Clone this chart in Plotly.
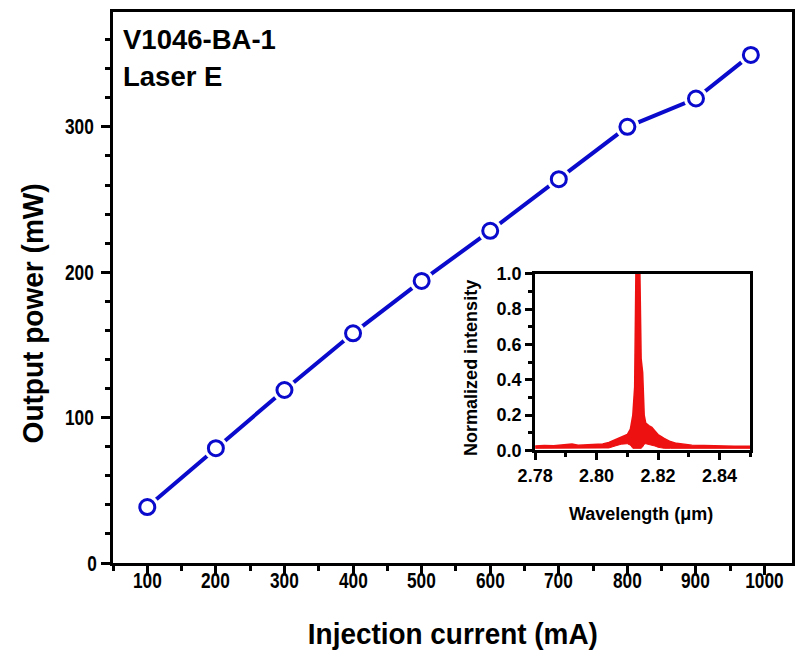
import plotly.graph_objects as go

# Main L-I data
current_mA = [100, 200, 300, 400, 500, 600, 700, 800, 900, 980]
power_mW = [38.5, 79, 119, 158, 194, 228.5, 264, 300, 319.5, 349.5]

# Inset spectrum (envelope)
wavelength_um = [2.780, 2.783, 2.786, 2.789, 2.792, 2.794, 2.796, 2.799, 2.802, 2.804,
                 2.806, 2.808, 2.810, 2.811, 2.8118, 2.8124, 2.8128, 2.8134, 2.8141, 2.8145,
                 2.8150, 2.8155, 2.8160, 2.817, 2.818, 2.819, 2.820, 2.822, 2.824, 2.826,
                 2.828, 2.831, 2.835, 2.840, 2.845, 2.850]
intensity_upper = [0.025, 0.028, 0.026, 0.030, 0.036, 0.030, 0.031, 0.032, 0.036, 0.045,
                   0.060, 0.075, 0.090, 0.120, 0.200, 0.360, 1.000, 1.000, 1.000, 0.520,
                   0.440, 0.200, 0.155, 0.140, 0.130, 0.110, 0.090, 0.068, 0.050, 0.040,
                   0.035, 0.030, 0.028, 0.025, 0.024, 0.024]
intensity_lower = [0.012, 0.012, 0.012, 0.012, 0.012, 0.012, 0.012, 0.012, 0.012, 0.014,
                   0.025, 0.035, 0.038, 0.030, 0.012, 0.012, 0.012, 0.012, 0.012, 0.012,
                   0.020, 0.035, 0.038, 0.035, 0.030, 0.025, 0.018, 0.012, 0.012, 0.012,
                   0.012, 0.012, 0.012, 0.012, 0.012, 0.012]

x_ticks = [100, 200, 300, 400, 500, 600, 700, 800, 900, 1000]
y_ticks = [0, 100, 200, 300]
inset_x_ticks = [2.78, 2.80, 2.82, 2.84]
inset_y_ticks = [0.0, 0.2, 0.4, 0.6, 0.8, 1.0]

SANS = "Liberation Sans, Arial, sans-serif"
BLUE = "#0a0acc"
RED = "#ee1111"

W, H = 797, 653
L, R, T, B = 113, 2, 5, 90
pw, ph = W - L - R, H - T - B


def px(x):
    return (x - L) / pw


def py(y):
    return (H - B - y) / ph


def bold(size):
    return dict(family=SANS, size=size, color="black", weight="bold")


fig = go.Figure()

# main curve: line, white halo markers (gaps), blue open circles
fig.add_trace(go.Scatter(x=current_mA, y=power_mW, mode="lines",
                         line=dict(color=BLUE, width=4), hoverinfo="skip",
                         showlegend=False, xaxis="x", yaxis="y"))
fig.add_trace(go.Scatter(x=current_mA, y=power_mW, mode="markers",
                         marker=dict(size=24, color="white", line=dict(width=0)),
                         hoverinfo="skip", showlegend=False, xaxis="x", yaxis="y"))
fig.add_trace(go.Scatter(x=current_mA, y=power_mW, mode="markers",
                         marker=dict(size=15, color="white", symbol="circle",
                                     line=dict(color=BLUE, width=3)),
                         showlegend=False, xaxis="x", yaxis="y"))

# inset spectrum
fig.add_trace(go.Scatter(x=wavelength_um, y=intensity_lower, mode="lines",
                         line=dict(color=RED, width=1), showlegend=False,
                         xaxis="x2", yaxis="y2", hoverinfo="skip"))
fig.add_trace(go.Scatter(x=wavelength_um, y=intensity_upper, mode="lines",
                         line=dict(color=RED, width=1.5), fill="tonexty",
                         fillcolor=RED, showlegend=False,
                         xaxis="x2", yaxis="y2"))

axis_common = dict(showline=True, linecolor="black", linewidth=3, mirror=True,
                   showgrid=False, zeroline=False, ticks="outside",
                   tickcolor="black", tickwidth=3)

fig.update_layout(
    width=W, height=H,
    margin=dict(l=L, r=R, t=T, b=B, pad=0),
    paper_bgcolor="white", plot_bgcolor="white",
    xaxis=dict(**axis_common, domain=[0, 1], range=[50, 1040],
               tickvals=x_ticks, ticklen=9, showticklabels=False,
               minor=dict(ticks="outside", dtick=50, tick0=50, ticklen=5,
                          tickwidth=3, tickcolor="black")),
    yaxis=dict(**axis_common, domain=[0, 1], range=[0, 379],
               tickvals=y_ticks, ticklen=9, showticklabels=False,
               minor=dict(ticks="outside", dtick=20, tick0=0, ticklen=5,
                          tickwidth=3, tickcolor="black")),
    xaxis2=dict(**axis_common, domain=[px(537), px(753)], anchor="y2",
                range=[2.78, 2.85], tickvals=inset_x_ticks,
                ticktext=[f"{v:.2f}" for v in inset_x_ticks], ticklen=7,
                minor=dict(ticks="outside", dtick=0.01, tick0=2.78, ticklen=4,
                           tickwidth=3, tickcolor="black"),
                tickfont=bold(18)),
    yaxis2=dict(**axis_common, domain=[py(449), py(270)], anchor="x2",
                range=[0, 1.0], tickvals=inset_y_ticks,
                ticktext=[f"{v:.1f}" for v in inset_y_ticks], ticklen=7,
                minor=dict(ticks="outside", dtick=0.1, tick0=0, ticklen=4,
                           tickwidth=3, tickcolor="black"),
                tickfont=bold(18)),
)

annotations = [
    dict(text="Injection current (mA)", x=px(455), y=py(634), font=bold(30),
         xanchor="center", yanchor="middle", xref="paper", yref="paper"),
    dict(text="Output power (mW)", x=px(32), y=py(310), textangle=-90,
         font=bold(30), xanchor="center", yanchor="middle",
         xref="paper", yref="paper"),
    dict(text="V1046-BA-1", x=px(121), y=py(33), font=bold(27.5),
         xanchor="left", yanchor="middle", xref="paper", yref="paper"),
    dict(text="Laser E", x=px(121), y=py(70), font=bold(27.5),
         xanchor="left", yanchor="middle", xref="paper", yref="paper"),
    dict(text="Wavelength (\u03bcm)", x=px(643), y=py(513), font=bold(18),
         xanchor="center", yanchor="middle", xref="paper", yref="paper"),
    dict(text="Normalized intensity", x=px(473), y=py(365), textangle=-90,
         font=bold(18), xanchor="center", yanchor="middle",
         xref="paper", yref="paper"),
]
# main-axis tick labels placed through the axes' own scales
for v in x_ticks:
    annotations.append(dict(text=str(v), x=v, xref="x", y=py(581), yref="paper",
                            font=bold(22), xanchor="center", yanchor="middle"))
for v in y_ticks:
    annotations.append(dict(text=str(v), x=px(100), xref="paper", y=v, yref="y",
                            font=bold(22), xanchor="right", yanchor="middle"))
for a in annotations:
    a.update(showarrow=False)
fig.update_layout(annotations=annotations)

post = """
document.body.style.margin='0';
document.body.style.overflow='hidden';
var gd = document.getElementById('{plot_id}');
function fitTo(sel, target) {
  gd.querySelectorAll(sel).forEach(function (t) {
    t.setAttribute('lengthAdjust', 'spacingAndGlyphs');
    t.setAttribute('textLength', String(target));
  });
}
fitTo('g.annotation[data-index="0"] text', 290);
fitTo('g.annotation[data-index="1"] text', 260);
gd.querySelectorAll('g.annotation').forEach(function (g) {
  var i = parseInt(g.getAttribute('data-index'), 10);
  if (i >= 6) {
    g.querySelectorAll('text').forEach(function (t) {
      var n = (t.textContent || '').length;
      t.setAttribute('lengthAdjust', 'spacingAndGlyphs');
      t.setAttribute('textLength', String(n * 9.6));
    });
  }
});
"""

fig.write_html("out.html", config={"displayModeBar": False}, post_script=post)
